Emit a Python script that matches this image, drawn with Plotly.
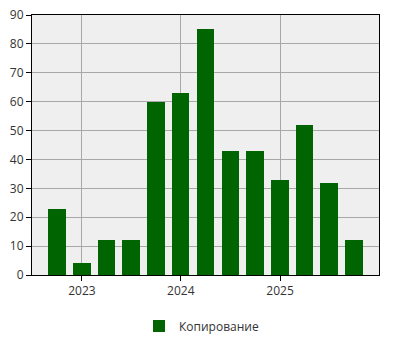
import plotly.graph_objects as go

dates = ["2022-10-01", "2023-01-01", "2023-04-01", "2023-07-01", "2023-10-01",
         "2024-01-01", "2024-04-01", "2024-07-01", "2024-10-01",
         "2025-01-01", "2025-04-01", "2025-07-01", "2025-10-01"]
values = [23, 4, 12, 12, 60, 63, 85, 43, 43, 33, 52, 32, 12]
series_name = "Копирование"
x_ticks = ["2023-01-01", "2024-01-01", "2025-01-01"]
x_tick_labels = ["2023", "2024", "2025"]

day_ms = 86400000
fig = go.Figure()
fig.add_trace(go.Bar(
    x=dates, y=values, name=series_name,
    marker=dict(color="#006400", line=dict(width=0)),
    width=[0.7 * 91 * day_ms] * len(dates),
    showlegend=True,
))

font = dict(family="Open Sans, DejaVu Sans, sans-serif", size=12, color="#333333")
fig.update_layout(
    width=400, height=350,
    margin=dict(l=32, r=21, t=15, b=75, autoexpand=False),
    paper_bgcolor="white", plot_bgcolor="#efefef",
    font=font,
    showlegend=True,
    legend=dict(orientation="h", x=0.5 - 4 / 347, xanchor="center",
                yref="container", y=24 / 350, yanchor="middle",
                itemwidth=30, font=font),
    xaxis=dict(type="date", range=["2022-07-01", "2026-01-01"],
               tickvals=x_ticks, ticktext=x_tick_labels,
               showgrid=True, gridcolor="#a8a8a8", gridwidth=1,
               showline=True, linecolor="black", linewidth=1, mirror=True,
               ticks="outside", ticklen=5, tickcolor="black", zeroline=False),
    yaxis=dict(range=[0, 90], tickvals=list(range(0, 91, 10)),
               showgrid=True, gridcolor="#a8a8a8", gridwidth=1,
               showline=True, linecolor="black", linewidth=1, mirror=True,
               ticks="outside", ticklen=5, tickcolor="black", zeroline=False),
    bargap=0,
)
fig.write_html("out.html")
